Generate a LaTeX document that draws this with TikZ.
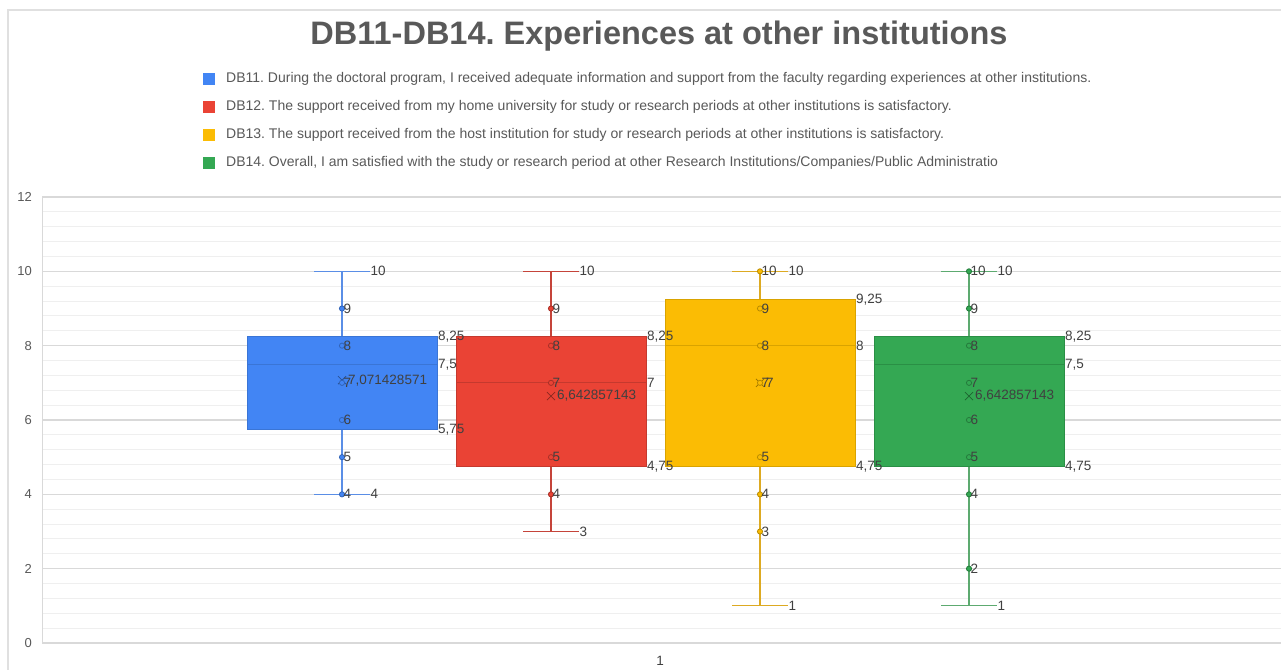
\documentclass[tikz,border=0pt]{standalone}
\usepackage{fontspec}
\setmainfont{Liberation Sans}
\frenchspacing
\definecolor{gridmaj}{HTML}{D9D9D9}
\definecolor{gridmin}{HTML}{EFEFEF}
\definecolor{frame}{HTML}{E0E0E0}
\definecolor{txt}{HTML}{595959}
\definecolor{lbl}{HTML}{404040}
\definecolor{bF}{HTML}{4285F4}\definecolor{bL}{HTML}{3A75D6}\definecolor{bW}{HTML}{5A8EE6}
\definecolor{rF}{HTML}{EA4335}\definecolor{rL}{HTML}{C5392E}\definecolor{rW}{HTML}{C5443A}
\definecolor{yF}{HTML}{FBBC04}\definecolor{yL}{HTML}{D9A300}\definecolor{yW}{HTML}{DDAA22}
\definecolor{gF}{HTML}{34A853}\definecolor{gL}{HTML}{2A8F45}\definecolor{gW}{HTML}{5DAA70}
\tikzset{
  dlabel/.style={anchor=west,inner sep=0pt,font=\fontsize{13.5}{13.5}\selectfont,text=lbl},
  ticklbl/.style={anchor=east,inner sep=0pt,font=\fontsize{13}{13}\selectfont,text=txt},
  legtxt/.style={anchor=west,inner sep=0pt,font=\fontsize{14}{14}\selectfont,text=txt},
}
\newcommand\Y[1]{643-37.1667*(#1)}
\begin{document}
\begin{tikzpicture}[x=1pt,y=-1pt]
\useasboundingbox (0,0) rectangle (1281,670);
\fill[white] (0,0) rectangle (1281,670);
% chart frame
\draw[frame,line width=1.5pt] (8,670) -- (8,10) -- (1281,10);
% title
\node[font=\fontsize{32.5}{32.5}\selectfont\bfseries,text=txt,inner sep=0pt] (title) at (659,36) {DB11-DB14. Experiences at other institutions};
% legend
\foreach \i/\c/\t in {
  0/bF/{DB11. During the doctoral program, I received adequate information and support from the faculty regarding experiences at other institutions.},
  1/rF/{DB12. The support received from my home university for study or research periods at other institutions is satisfactory.},
  2/yF/{DB13. The support received from the host institution for study or research periods at other institutions is satisfactory.},
  3/gF/{DB14. Overall, I am satisfied with the study or research period at other Research Institutions/Companies/Public Administratio}}{
  \fill[\c] (203,{79+28*\i-6}) rectangle (215,{79+28*\i+6});
  \node[legtxt] (leg\i) at (226,{79+28*\i}) {\t};
}
% grid
\foreach \v in {0.4,0.8,...,11.7}{\draw[gridmin,line width=1pt] (42,{\Y{\v}}) -- (1281,{\Y{\v}});}
\foreach \v in {0,2,...,12}{
  \draw[gridmaj,line width=1.2pt] (42,{\Y{\v}}) -- (1281,{\Y{\v}});
  \node[ticklbl] (tick\v) at (32,{\Y{\v}}) {\v};
}
\draw[gridmaj,line width=1pt] (42,{\Y{0}}) -- (42,{\Y{12}});
\node[dlabel,anchor=center] (cat1) at (660,661) {1};
% boxes (shapes first)
\def\series{
  b/342/4/5.75/7.5/8.25/10/7.071428571/{5,75}/{7,5}/{8,25}/{7,071428571}/bF/bL/bW,
  r/551/3/4.75/7/8.25/10/6.642857143/{4,75}/{7}/{8,25}/{6,642857143}/rF/rL/rW,
  y/760/1/4.75/8/9.25/10/7/{4,75}/{8}/{9,25}/{7}/yF/yL/yW,
  g/969/1/4.75/7.5/8.25/10/6.642857143/{4,75}/{7,5}/{8,25}/{6,642857143}/gF/gL/gW}
\foreach \nm/\cx/\mn/\qa/\md/\qb/\mx/\mean/\qal/\mdl/\qbl/\meanl/\fc/\lc/\wc in \series {
  \draw[\wc,line width=1.2pt] (\cx,{\Y{\mn}}) -- (\cx,{\Y{\mx}});
  \draw[\wc,line width=1.2pt] ({\cx-28},{\Y{\mn}}) -- ({\cx+28},{\Y{\mn}});
  \draw[\wc,line width=1.2pt] ({\cx-28},{\Y{\mx}}) -- ({\cx+28},{\Y{\mx}});
  \filldraw[fill=\fc,draw=\lc,line width=1pt] ({\cx-95},{\Y{\qa}}) rectangle ({\cx+95},{\Y{\qb}});
  \draw[\lc,line width=1pt] ({\cx-95},{\Y{\md}}) -- ({\cx+95},{\Y{\md}});
  \draw[\lc!70!black,line width=0.8pt] ({\cx-4},{\Y{\mean}-4}) -- ({\cx+4},{\Y{\mean}+4})
        ({\cx-4},{\Y{\mean}+4}) -- ({\cx+4},{\Y{\mean}-4});
}
% points
\def\pointsets{
  b/342/bF/bL/{9,8,7,6,5,4},
  r/551/rF/rL/{9,8,7,5,4},
  y/760/yF/yL/{10,9,8,7,5,4,3},
  g/969/gF/gL/{10,9,8,7,6,5,4,2}}
\foreach \nm/\cx/\fc/\lc/\pts in \pointsets {
  \foreach \p in \pts {
    \filldraw[fill=\fc,draw=\lc!85!black,line width=0.8pt] (\cx,{\Y{\p}}) circle (2.6);
  }
}
% labels on top
\foreach \nm/\cx/\mn/\qa/\md/\qb/\mx/\mean/\qal/\mdl/\qbl/\meanl/\fc/\lc/\wc in \series {
  \node[dlabel] (\nm-max) at ({\cx+28.5},{\Y{\mx}}) {\mx};
  \node[dlabel] (\nm-min) at ({\cx+28.5},{\Y{\mn}}) {\mn};
  \node[dlabel] (\nm-q3) at ({\cx+96},{\Y{\qb}}) {\qbl};
  \node[dlabel] (\nm-med) at ({\cx+96},{\Y{\md}}) {\mdl};
  \node[dlabel] (\nm-q1) at ({\cx+96},{\Y{\qa}}) {\qal};
  \node[dlabel] (\nm-mean) at ({\cx+6},{\Y{\mean}}) {\meanl};
}
\foreach \nm/\cx/\fc/\lc/\pts in \pointsets {
  \foreach \p in \pts {
    \node[dlabel] (\nm-p\p) at ({\cx+1.5},{\Y{\p}}) {\p};
  }
}
\end{tikzpicture}
\end{document}
